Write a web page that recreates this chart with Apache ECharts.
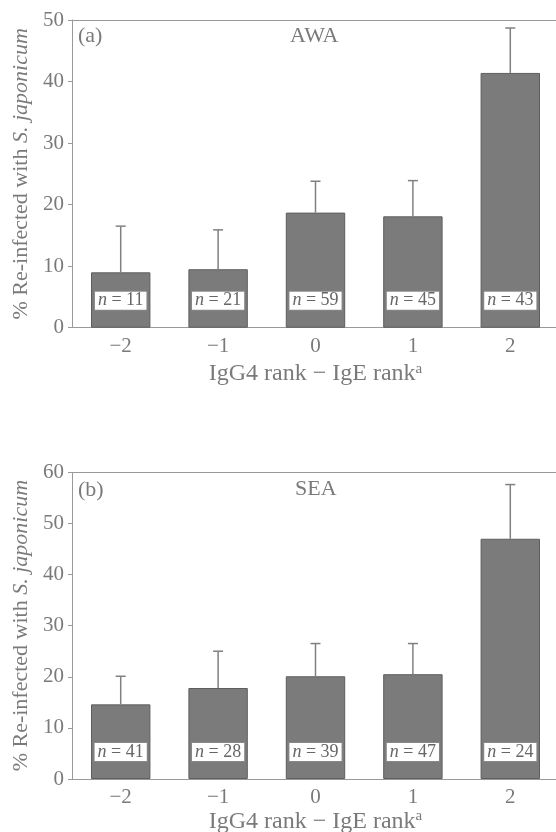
<!DOCTYPE html>
<html>
<head>
<meta charset="utf-8">
<script src="https://cdn.jsdelivr.net/npm/echarts@6/dist/echarts.min.js"></script>
<style>
html,body{margin:0;padding:0;background:#fff;}
#chart{width:556px;height:832px;}
</style>
</head>
<body>
<div id="chart"></div>
<script>
// ---- data ----
var categories = ['\u22122', '\u22121', '0', '1', '2'];
var awaValues = [9.0, 9.5, 18.7, 18.1, 41.4];
var awaErrTop = [16.5, 15.9, 23.8, 23.9, 48.7];
var awaN = [11, 21, 59, 45, 43];
var seaValues = [14.6, 17.8, 20.1, 20.5, 47.0];
var seaErrTop = [20.1, 25.0, 26.5, 26.5, 57.6];
var seaN = [41, 28, 39, 47, 24];
var awaYTicks = {min: 0, max: 50, interval: 10};
var seaYTicks = {min: 0, max: 60, interval: 10};
var xTitle = 'IgG4 rank \u2212 IgE rank';
var yTitlePlain = '% Re-infected with ';
var yTitleItalic = 'S. japonicum';
var panelA = '(a)', panelB = '(b)';
var titleA = 'AWA', titleB = 'SEA';

// ---- styles ----
var FONT = 'Liberation Serif';
var TXT = '#7a7a7a';
var AX = '#999';

function makeGrid(top, height) {
  return {left: 72, right: -3, top: top, height: height, show: false,
    outerBoundsMode: 'none', containLabel: false};
}
function makeX(gi) {
  return {
    type: 'category', gridIndex: gi, data: categories, position: 'bottom',
    axisLine: {lineStyle: {color: AX, width: 1}},
    axisTick: {alignWithLabel: true, length: 4, lineStyle: {color: AX}},
    axisLabel: {color: TXT, fontFamily: FONT, fontSize: 21, margin: 8},
    name: '{t|' + xTitle + '}{s|a}',
    nameLocation: 'middle', nameGap: gi === 0 ? 34 : 26,
    nameTextStyle: {
      color: TXT, fontFamily: FONT,
      rich: {
        t: {fontSize: 24, color: TXT, fontFamily: FONT},
        s: {fontSize: 15, color: TXT, fontFamily: FONT, padding: [0, 0, 10, 0]}
      }
    }
  };
}
function makeTopX(gi) {
  return {
    type: 'category', gridIndex: gi, data: categories, position: 'top',
    axisLine: {lineStyle: {color: AX, width: 1}},
    axisTick: {show: false}, axisLabel: {show: false}
  };
}
function makeY(gi, t) {
  return {
    type: 'value', gridIndex: gi, min: t.min, max: t.max, interval: t.interval,
    splitLine: {show: false},
    axisLine: {show: true, lineStyle: {color: AX, width: 1}},
    axisTick: {show: true, length: 4, lineStyle: {color: AX}},
    axisLabel: {color: TXT, fontFamily: FONT, fontSize: 21, margin: 8},
    name: '{r|' + yTitlePlain + '}{i|' + yTitleItalic + '}',
    nameLocation: 'middle', nameRotate: 90, nameGap: 40,
    nameTextStyle: {
      rich: {
        r: {fontSize: 22, color: TXT, fontFamily: FONT},
        i: {fontSize: 22, color: TXT, fontFamily: FONT, fontStyle: 'italic'}
      }
    }
  };
}
function barSeries(gi, vals, ns) {
  return {
    type: 'bar', xAxisIndex: gi, yAxisIndex: gi, data: vals, barWidth: '61%',
    itemStyle: {color: '#7b7b7b', borderColor: '#5e5e5e', borderWidth: 1},
    label: {
      show: true, position: 'insideBottom', distance: 18,
      formatter: function (p) { return '{i|n} = ' + ns[p.dataIndex]; },
      color: '#666', fontFamily: FONT, fontSize: 18,
      backgroundColor: '#fff', borderColor: '#888', borderWidth: 1,
      padding: [0, 3, 0, 3], lineHeight: 18,
      rich: {i: {fontStyle: 'italic', fontFamily: FONT, fontSize: 18, color: '#666', lineHeight: 18}}
    },
    silent: true
  };
}
function errSeries(gi, vals, tops) {
  var d = vals.map(function (v, i) { return [i, v, tops[i]]; });
  return {
    type: 'custom', xAxisIndex: gi, yAxisIndex: gi, data: d, z: 5,
    encode: {x: 0, y: 2},
    renderItem: function (params, api) {
      var p0 = api.coord([api.value(0), api.value(1)]);
      var p1 = api.coord([api.value(0), api.value(2)]);
      var hw = 5;
      var st = {stroke: '#808080', lineWidth: 1.5};
      return {type: 'group', children: [
        {type: 'line', shape: {x1: p0[0], y1: p0[1], x2: p1[0], y2: p1[1]}, style: st},
        {type: 'line', shape: {x1: p1[0] - hw, y1: p1[1], x2: p1[0] + hw, y2: p1[1]}, style: st}
      ]};
    }
  };
}

var chart = echarts.init(document.getElementById('chart'), null, {renderer: 'canvas'});
chart.setOption({
  backgroundColor: '#fff',
  animation: false,
  grid: [makeGrid(20, 307.7), makeGrid(472.3, 306.7)],
  xAxis: [makeX(0), makeX(1), makeTopX(0), makeTopX(1)],
  yAxis: [makeY(0, awaYTicks), makeY(1, seaYTicks)],
  series: [
    barSeries(0, awaValues, awaN), errSeries(0, awaValues, awaErrTop),
    barSeries(1, seaValues, seaN), errSeries(1, seaValues, seaErrTop)
  ],
  graphic: [
    {type: 'text', left: 78, top: 25, style: {text: panelA, fill: TXT, font: '22px "Liberation Serif"'}},
    {type: 'text', left: 290, top: 25, style: {text: titleA, fill: TXT, font: '22px "Liberation Serif"'}},
    {type: 'text', left: 78, top: 479, style: {text: panelB, fill: TXT, font: '22px "Liberation Serif"'}},
    {type: 'text', left: 295, top: 478, style: {text: titleB, fill: TXT, font: '22px "Liberation Serif"'}}
  ]
});
</script>
</body>
</html>
